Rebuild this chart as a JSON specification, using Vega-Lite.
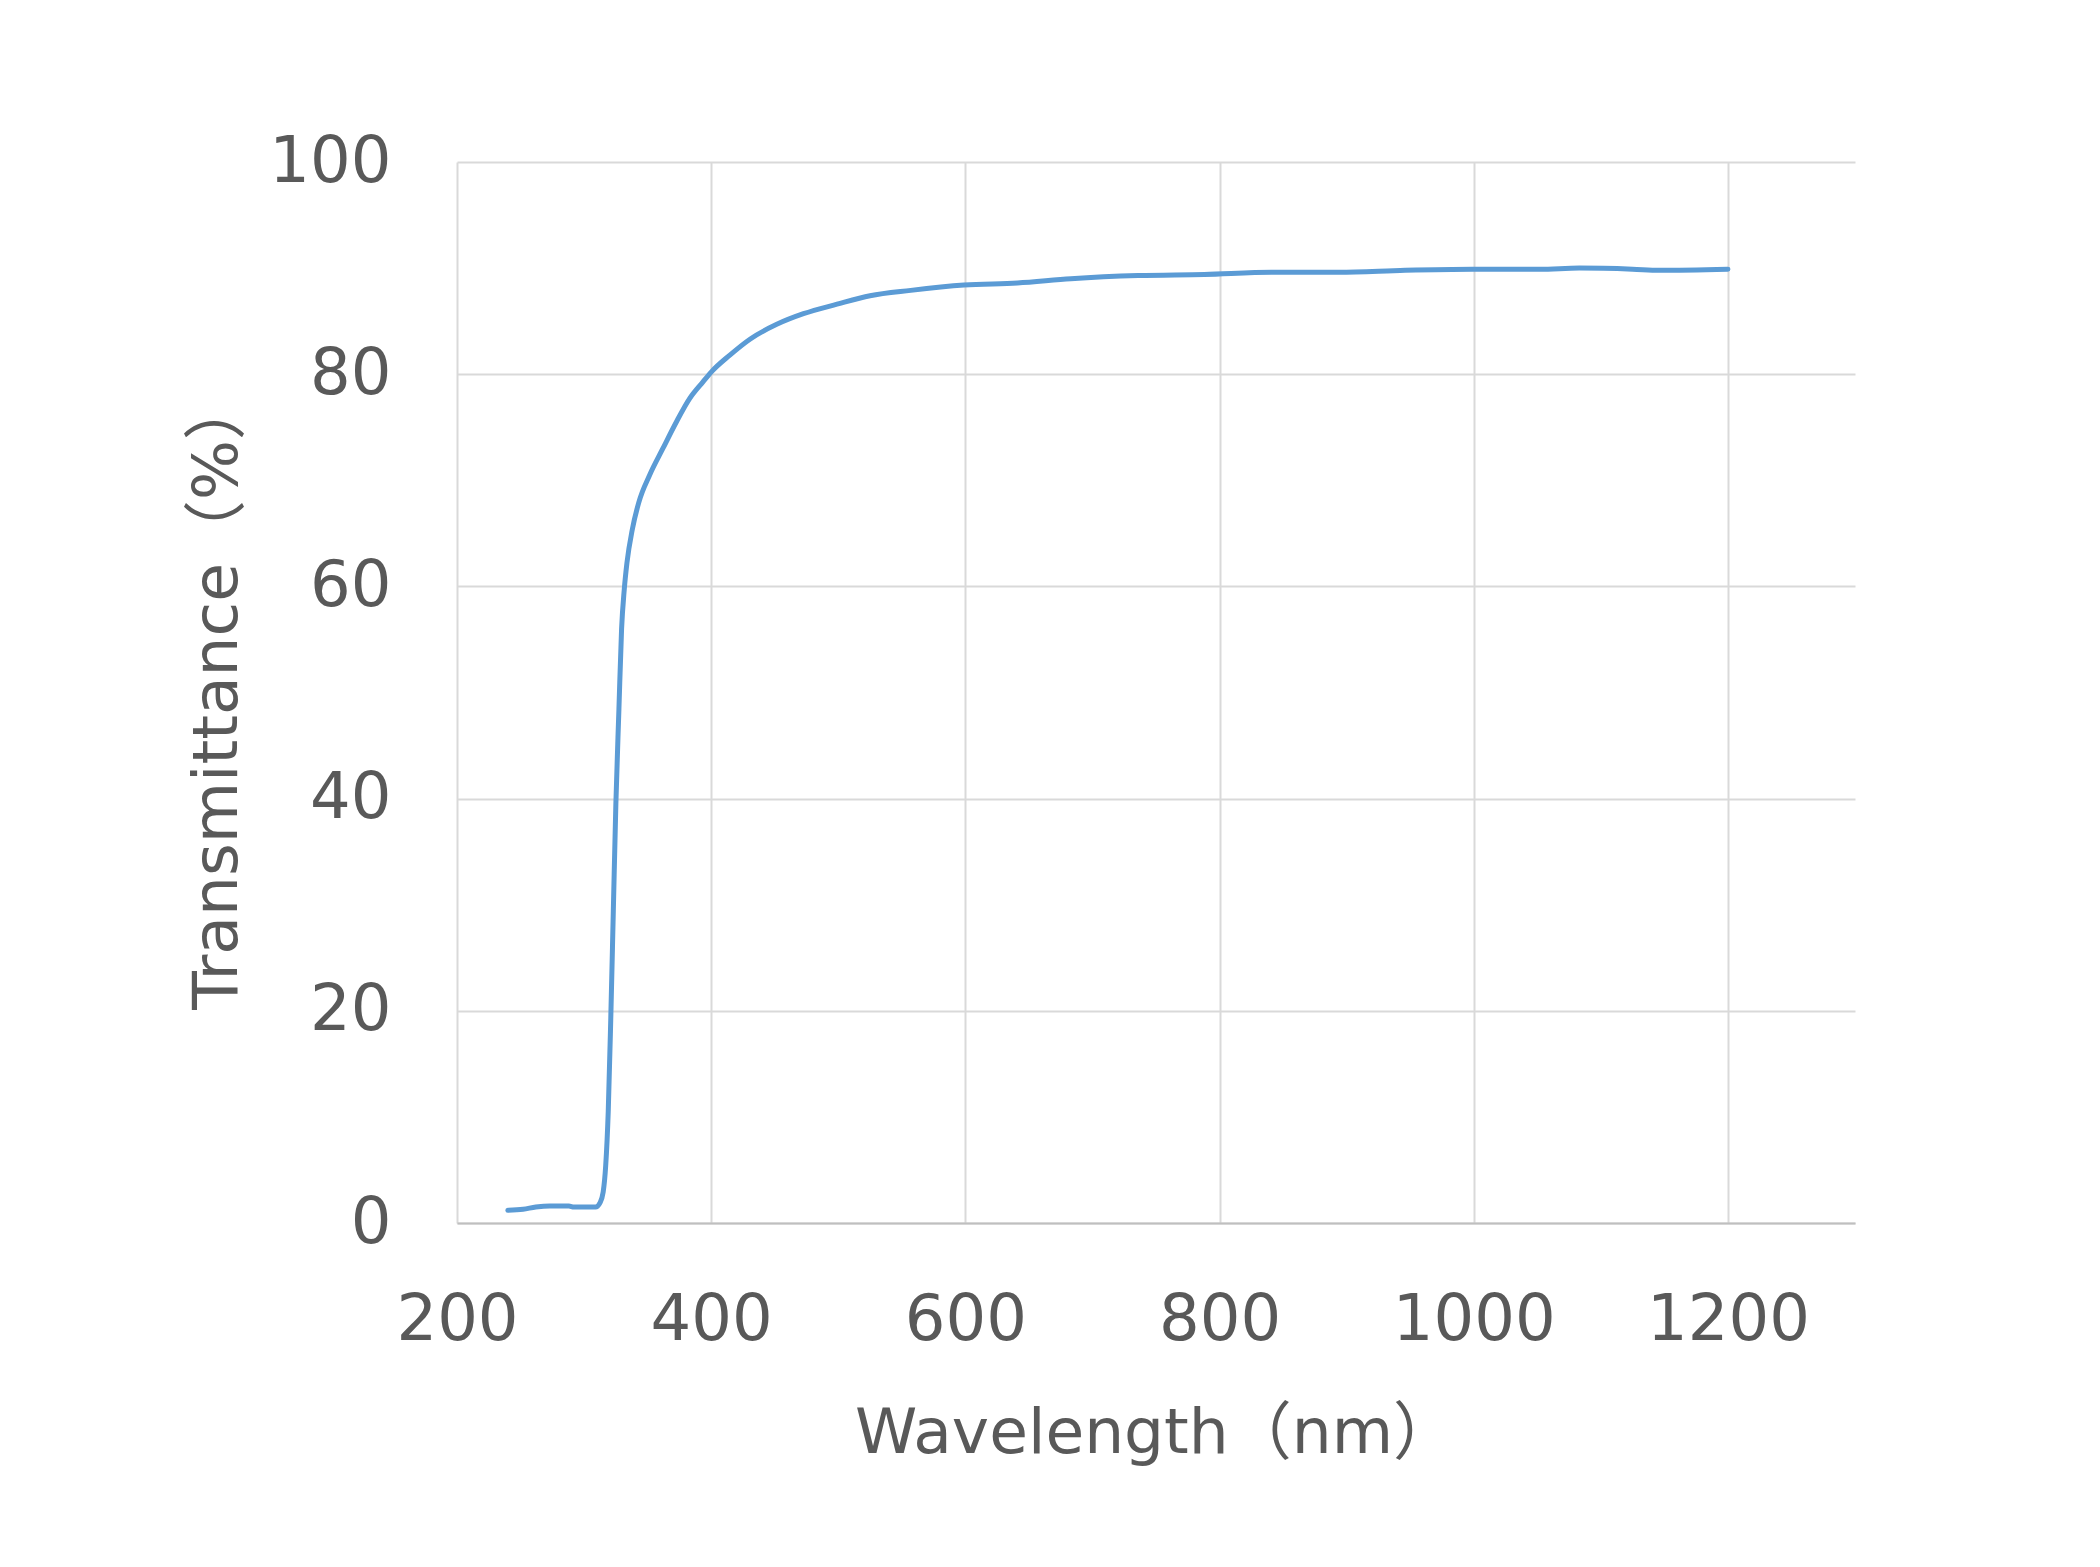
{
  "$schema": "https://vega.github.io/schema/vega-lite/v6.json",
  "width": 1398,
  "height": 1061,
  "autosize": {"type": "none"},
  "padding": {"left": 457, "top": 162, "right": 245, "bottom": 344},
  "background": "white",
  "config": {
    "view": {"stroke": null},
    "axis": {
      "labelFont": "DejaVu Sans",
      "labelFontSize": 64,
      "labelColor": "#595959",
      "labelFlush": false,
      "labelLimit": 0,
      "labelOverlap": false,
      "format": "d",
      "titleFont": "DejaVu Sans, Noto Sans CJK JP",
      "titleFontSize": 63,
      "titleFontWeight": "normal",
      "titleColor": "#595959",
      "gridColor": "#d9d9d9",
      "gridWidth": 2,
      "ticks": false,
      "tickSize": 0
    }
  },
  "data": {
    "values": [
      {"nm": 240, "T": 1.2},
      {"nm": 252, "T": 1.3},
      {"nm": 262, "T": 1.5},
      {"nm": 273, "T": 1.6},
      {"nm": 288, "T": 1.6},
      {"nm": 292, "T": 1.5},
      {"nm": 309, "T": 1.5},
      {"nm": 312.5, "T": 1.9},
      {"nm": 315, "T": 2.9},
      {"nm": 317, "T": 5.4},
      {"nm": 319, "T": 10.5},
      {"nm": 321, "T": 19.3},
      {"nm": 323, "T": 29.4},
      {"nm": 325, "T": 39.5},
      {"nm": 327.4, "T": 48.4},
      {"nm": 329.5, "T": 56},
      {"nm": 331.6, "T": 59.7},
      {"nm": 333.7, "T": 62.2},
      {"nm": 338, "T": 65.4},
      {"nm": 343, "T": 67.9},
      {"nm": 351.6, "T": 70.5},
      {"nm": 362, "T": 73},
      {"nm": 372.6, "T": 75.5},
      {"nm": 383, "T": 77.7},
      {"nm": 393.7, "T": 79.3},
      {"nm": 400, "T": 80.2},
      {"nm": 414.7, "T": 81.8},
      {"nm": 430.5, "T": 83.3},
      {"nm": 451.6, "T": 84.7},
      {"nm": 472.6, "T": 85.7},
      {"nm": 499, "T": 86.6},
      {"nm": 525, "T": 87.4},
      {"nm": 557, "T": 87.9},
      {"nm": 599, "T": 88.4},
      {"nm": 641, "T": 88.6},
      {"nm": 683, "T": 89.0},
      {"nm": 736, "T": 89.3},
      {"nm": 788, "T": 89.4},
      {"nm": 841, "T": 89.6},
      {"nm": 894, "T": 89.6},
      {"nm": 946, "T": 89.8},
      {"nm": 999, "T": 89.9},
      {"nm": 1052, "T": 89.9},
      {"nm": 1083, "T": 90.0},
      {"nm": 1125, "T": 89.9},
      {"nm": 1146, "T": 89.8},
      {"nm": 1200, "T": 89.9}
    ]
  },
  "mark": {"type": "line", "color": "#5b9bd5", "strokeWidth": 5, "strokeCap": "round", "strokeJoin": "round", "interpolate": "monotone"},
  "encoding": {
    "x": {
      "field": "nm",
      "type": "quantitative",
      "scale": {"domain": [200, 1300], "nice": false, "zero": false},
      "axis": {
        "values": [200, 400, 600, 800, 1000, 1200],
        "title": "Wavelength（nm）",
        "labelPadding": 65,
        "labelBaseline": "top",
        "domainColor": "#bfbfbf",
        "domainWidth": 2,
        "titleX": 698,
        "titleY": 210,
        "titleBaseline": "middle",
        "titleAlign": "center"
      }
    },
    "y": {
      "field": "T",
      "type": "quantitative",
      "scale": {"domain": [0, 100], "nice": false},
      "axis": {
        "values": [0, 20, 40, 60, 80, 100],
        "title": "Transmittance（%）",
        "labelPadding": 66,
        "labelBaseline": "middle",
        "domain": false,
        "titleX": -240,
        "titleY": 531,
        "titleAngle": -90,
        "titleBaseline": "middle",
        "titleAlign": "center"
      }
    }
  }
}
